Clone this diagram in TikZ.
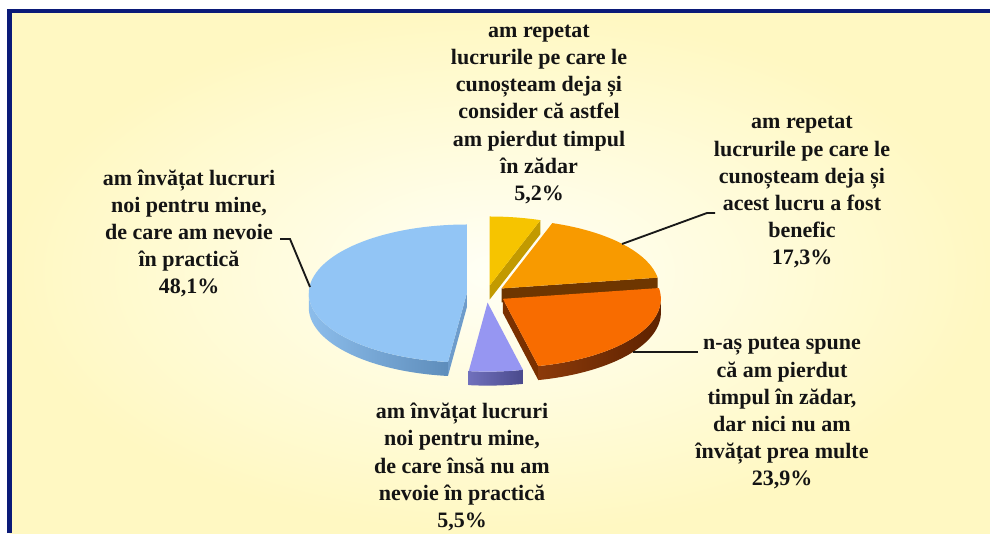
\documentclass[tikz,border=0pt]{standalone}
\usepackage{fontspec}
\setmainfont{Liberation Serif}
\definecolor{navy}{HTML}{0B1A78}
\definecolor{bgin}{HTML}{FFFFF6}
\definecolor{bgout}{HTML}{FFF8C2}
\definecolor{ytop}{HTML}{F6C400}
\definecolor{yside}{HTML}{C29A00}
\definecolor{otop}{HTML}{F89A00}
\definecolor{oside}{HTML}{6E3600}
\definecolor{dtop}{HTML}{F86C00}
\definecolor{dsideL}{HTML}{8B3A0A}
\definecolor{dsideR}{HTML}{5E2200}
\definecolor{dcut}{HTML}{7A3000}
\definecolor{ptop}{HTML}{9696F2}
\definecolor{psideL}{HTML}{7070BC}
\definecolor{psideR}{HTML}{4A4A8C}
\definecolor{btop}{HTML}{92C5F5}
\definecolor{bsideL}{HTML}{8CBDEB}
\definecolor{bsideR}{HTML}{5E8DBB}
\definecolor{bcut}{HTML}{6E9CCB}
\begin{document}
\begin{tikzpicture}[x=0.75pt,y=-0.75pt,
  lbl/.style={align=center,inner sep=0pt,text=black!92,
    font=\fontsize{16.5}{20.4}\selectfont\bfseries},
  leader/.style={draw=black!90,line width=1.4pt},
]
\def\rx{158}\def\ry{69}\def\hh{14}\def\cx{486.5}\def\cy{294}\def\ek{0.125}
\useasboundingbox (0,0) rectangle (990,533);
\fill[white] (0,0) rectangle (990,533);
\shade[inner color=bgin,outer color=bgout] (9.5,11) rectangle (990,533);
\draw[navy,line width=3.5pt] (9.5,533) -- (9.5,11) -- (990,11);

% slice centres (exploded)
\coordinate (Y) at ({\cx+\ek*\rx*sin(9.36)},{\cy-\ek*\ry*cos(9.36)});
\coordinate (O) at ({\cx+\ek*\rx*sin(49.86)},{\cy-\ek*\ry*cos(49.86)});
\coordinate (D) at ({\cx+\ek*\rx*sin(124.02)},{\cy-\ek*\ry*cos(124.02)});
\coordinate (P) at ({\cx+\ek*\rx*sin(176.94)},{\cy-\ek*\ry*cos(176.94)});
\coordinate (B) at ({\cx+\ek*\rx*sin(273.42)},{\cy-\ek*\ry*cos(273.42)});

% yellow 5,2%
\begin{scope}[shift={(Y)}]
  \fill[yside] (0,0) -- ({\rx*sin(18.72)},{-\ry*cos(18.72)}) -- ++(0,\hh) -- (0,\hh) -- cycle;
  \fill[ytop] (0,0) -- plot[domain=0:18.72,samples=20] ({\rx*sin(\x)},{-\ry*cos(\x)}) -- cycle;
\end{scope}
% orange 17,3%
\begin{scope}[shift={(O)}]
  \fill[oside] (0,0) -- ({\rx*sin(81)},{-\ry*cos(81)}) -- ++(0,\hh) -- (0,\hh) -- cycle;
  \fill[otop] (0,0) -- plot[domain=18.72:81,samples=40] ({\rx*sin(\x)},{-\ry*cos(\x)}) -- cycle;
\end{scope}
% blue 48,1%
\begin{scope}[shift={(B)}]
  \fill[bcut] (0,0) -- ({\rx*sin(186.84)},{-\ry*cos(186.84)}) -- ++(0,\hh) -- (0,\hh) -- cycle;
  \shade[left color=bsideL,right color=bsideR]
    plot[domain=186.84:270,samples=40] ({\rx*sin(\x)},{-\ry*cos(\x)})
    -- plot[domain=270:186.84,samples=40] ({\rx*sin(\x)},{-\ry*cos(\x)+\hh}) -- cycle;
  \fill[btop] (0,0) -- plot[domain=186.84:360,samples=80] ({\rx*sin(\x)},{-\ry*cos(\x)}) -- cycle;
\end{scope}
% dark orange 23,9%
\begin{scope}[shift={(D)}]
  \fill[dcut] (0,0) -- ({\rx*sin(167.04)},{-\ry*cos(167.04)}) -- ++(0,\hh) -- (0,\hh) -- cycle;
  \shade[left color=dsideL,right color=dsideR]
    plot[domain=90:167.04,samples=40] ({\rx*sin(\x)},{-\ry*cos(\x)})
    -- plot[domain=167.04:90,samples=40] ({\rx*sin(\x)},{-\ry*cos(\x)+\hh}) -- cycle;
  \fill[dtop] (0,0) -- plot[domain=81:167.04,samples=40] ({\rx*sin(\x)},{-\ry*cos(\x)}) -- cycle;
\end{scope}
% purple 5,5%
\begin{scope}[shift={(P)}]
  \shade[left color=psideL,right color=psideR]
    plot[domain=167.04:186.84,samples=20] ({\rx*sin(\x)},{-\ry*cos(\x)})
    -- plot[domain=186.84:167.04,samples=20] ({\rx*sin(\x)},{-\ry*cos(\x)+\hh}) -- cycle;
  \fill[ptop] (0,0) -- plot[domain=167.04:186.84,samples=20] ({\rx*sin(\x)},{-\ry*cos(\x)}) -- cycle;
\end{scope}

% labels
\node[lbl] (lY) at (539,114.5) {am repetat\\lucrurile pe care le\\cunoșteam deja și\\consider că astfel\\am pierdut timpul\\în zădar\\5,2\%};
\node[lbl] (lO) at (802,192.5) {am repetat\\lucrurile pe care le\\cunoșteam deja și\\acest lucru a fost\\benefic\\17,3\%};
\node[lbl] (lB) at (189,233.5) {am învățat lucruri\\noi pentru mine,\\de care am nevoie\\în practică\\48,1\%};
\node[lbl] (lD) at (782,413.5) {n-aș putea spune\\că am pierdut\\timpul în zădar,\\dar nici nu am\\învățat prea multe\\23,9\%};
\node[lbl] (lP) at (462,467) {am învățat lucruri\\noi pentru mine,\\de care însă nu am\\nevoie în practică\\5,5\%};

% leader lines
\coordinate (bA) at (280,239);
\coordinate (bK) at (290,239);
\coordinate (bE) at (310,287);
\draw[leader] (bA) -- (bK) -- (bE);
\coordinate (oA) at (715,213);
\coordinate (oK) at (707,213);
\coordinate (oE) at (622,244);
\draw[leader] (oA) -- (oK) -- (oE);
\coordinate (dA) at (698,352);
\coordinate (dE) at (633,352);
\draw[leader] (dA) -- (dE);
\end{tikzpicture}
\end{document}
